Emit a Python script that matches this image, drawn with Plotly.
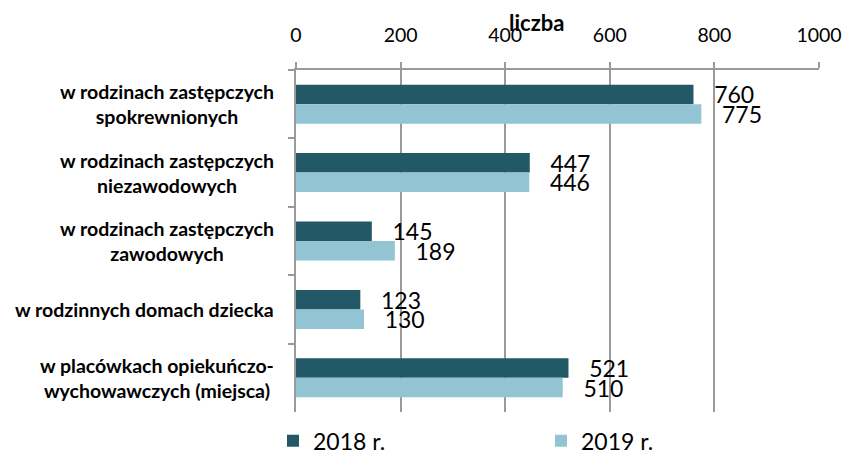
import plotly.graph_objects as go

# Categories (top to bottom) and values per year
categories = [
    "w rodzinach zastępczych<br>spokrewnionych",
    "w rodzinach zastępczych<br>niezawodowych",
    "w rodzinach zastępczych<br>zawodowych",
    "w rodzinnych domach dziecka",
    "w placówkach opiekuńczo-<br>wychowawczych (miejsca)",
]
values_2018 = [760, 447, 145, 123, 521]
values_2019 = [775, 446, 189, 130, 510]
series_names = ["2018 r.", "2019 r."]
x_ticks = [0, 200, 400, 600, 800, 1000]

DARK = "#235866"
LIGHT = "#93C4D4"
FONT = "Lato"

fig = go.Figure()
for name, vals, color in [(series_names[0], values_2018, DARK),
                          (series_names[1], values_2019, LIGHT)]:
    fig.add_trace(go.Bar(
        y=categories, x=vals, orientation="h", name=name,
        marker=dict(color=color, line=dict(width=0)),
        text=vals, texttemplate="\u00a0\u00a0\u00a0%{x}",
        textposition="outside", constraintext="none", cliponaxis=False,
        textfont=dict(family=FONT, size=23, color="#000000"),
    ))

# Category labels, centred multi-line text to the left of the plot
for cat in categories:
    fig.add_annotation(
        x=0, xref="paper", xanchor="right", xshift=-20,
        y=cat, yref="y", yanchor="middle",
        text=f"<b>{cat}</b>", showarrow=False, align="center",
        font=dict(family=FONT, size=19.5, color="#000000"),
    )

# Axis title
fig.add_annotation(
    x=0.459, xref="paper", y=1, yref="paper", yanchor="bottom", yshift=32,
    text="<b>liczba</b>", showarrow=False,
    font=dict(family=FONT, size=22, color="#000000"),
)

fig.update_layout(
    width=848, height=452,
    margin=dict(l=296, r=29, t=70, b=40, autoexpand=False),
    paper_bgcolor="white", plot_bgcolor="white",
    barmode="group", bargap=0.43, bargroupgap=0,
    font=dict(family=FONT, color="#000000"),
    legend=dict(
        orientation="h", x=-0.044, xanchor="left",
        y=-0.021, yanchor="top",
        entrywidth=223, entrywidthmode="pixels",
        font=dict(family=FONT, size=23, color="#000000"),
        itemwidth=30, tracegroupgap=0,
    ),
    xaxis=dict(
        side="top", range=[0, 1000], tickvals=x_ticks,
        showgrid=True, gridcolor="#9a9a9a", gridwidth=1.5,
        showline=True, linecolor="#9a9a9a", linewidth=1.5,
        ticks="outside", ticklen=6, tickcolor="#9a9a9a", tickwidth=1.5,
        ticklabelstandoff=12, automargin=False,
        tickfont=dict(family=FONT, size=19.5, color="#000000"),
        zeroline=False, fixedrange=True,
    ),
    yaxis=dict(
        autorange="reversed", showticklabels=False, automargin=False,
        showline=True, linecolor="#9a9a9a", linewidth=1.5,
        ticks="outside", tickson="boundaries", ticklen=6,
        tickcolor="#9a9a9a", tickwidth=1.5, showgrid=False,
    ),
)

fig.write_html("out.html")
